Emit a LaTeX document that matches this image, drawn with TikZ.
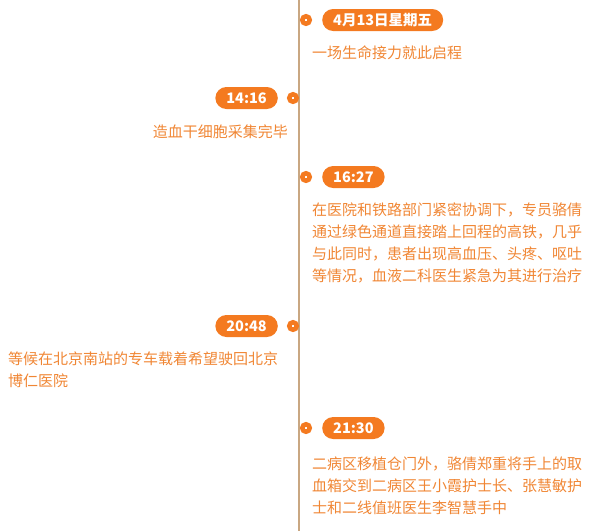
\documentclass[tikz,border=0pt]{standalone}
\usepackage{fontspec}
\setmainfont{Noto Sans CJK SC}
\usetikzlibrary{positioning}
\usepackage{xcolor}
\definecolor{timeorange}{HTML}{F47A20}
\definecolor{timetext}{HTML}{F08634}
\definecolor{timeline}{HTML}{C9A782}

\begin{document}
\begin{tikzpicture}[x=1pt, y=-1pt,
  pill/.style={fill=timeorange, text=white, font=\fontsize{14.5}{14.5}\selectfont\bfseries,
    rounded corners=11pt, minimum height=22pt, inner xsep=11pt, inner ysep=0pt},
  dot/.style={circle, draw=timeorange, line width=4.5pt, fill=white,
    minimum size=7.5pt, inner sep=0pt},
  event/.style={text=timetext, font=\fontsize{15}{22}\selectfont,
    inner sep=0pt, align=left}]
  \useasboundingbox (0,0) rectangle (600,531);

  % Timeline
  \coordinate (top) at (299,0);
  \coordinate (bottom) at (299,531);
  \draw[timeline, line width=1.5pt] (top) -- (bottom);

  % 4月13日
  \node[dot] (d1) at (306,20) {};
  \node[pill, anchor=west] (p1) at (322,20) {4月13日星期五};
  \node[event, anchor=base west] (t1) at (312,58) {一场生命接力就此启程};

  % 14:16
  \node[dot] (d2) at (293,98) {};
  \node[pill, anchor=east] (p2) at (278,98) {14:16};
  \node[event, anchor=base east] (t2) at (288,137) {造血干细胞采集完毕};

  % 16:27 (base = last line)
  \node[dot] (d3) at (306,177) {};
  \node[pill, anchor=west] (p3) at (322,177) {16:27};
  \node[event, anchor=base west] (t3) at (312,281) {在医院和铁路部门紧密协调下，专员骆倩\\
    通过绿色通道直接踏上回程的高铁，几乎\\
    与此同时，患者出现高血压、头疼、呕吐\\
    等情况，血液二科医生紧急为其进行治疗};

  % 20:48
  \node[dot] (d4) at (293,326) {};
  \node[pill, anchor=east] (p4) at (278,326) {20:48};
  \node[event, anchor=base west] (t4) at (8,386) {等候在北京南站的专车载着希望驶回北京\\
    博仁医院};

  % 21:30
  \node[dot] (d5) at (306,428) {};
  \node[pill, anchor=west] (p5) at (322,428) {21:30};
  \node[event, anchor=base west] (t5) at (312,513) {二病区移植仓门外，骆倩郑重将手上的取\\
    血箱交到二病区王小霞护士长、张慧敏护\\
    士和二线值班医生李智慧手中};
\end{tikzpicture}
\end{document}
